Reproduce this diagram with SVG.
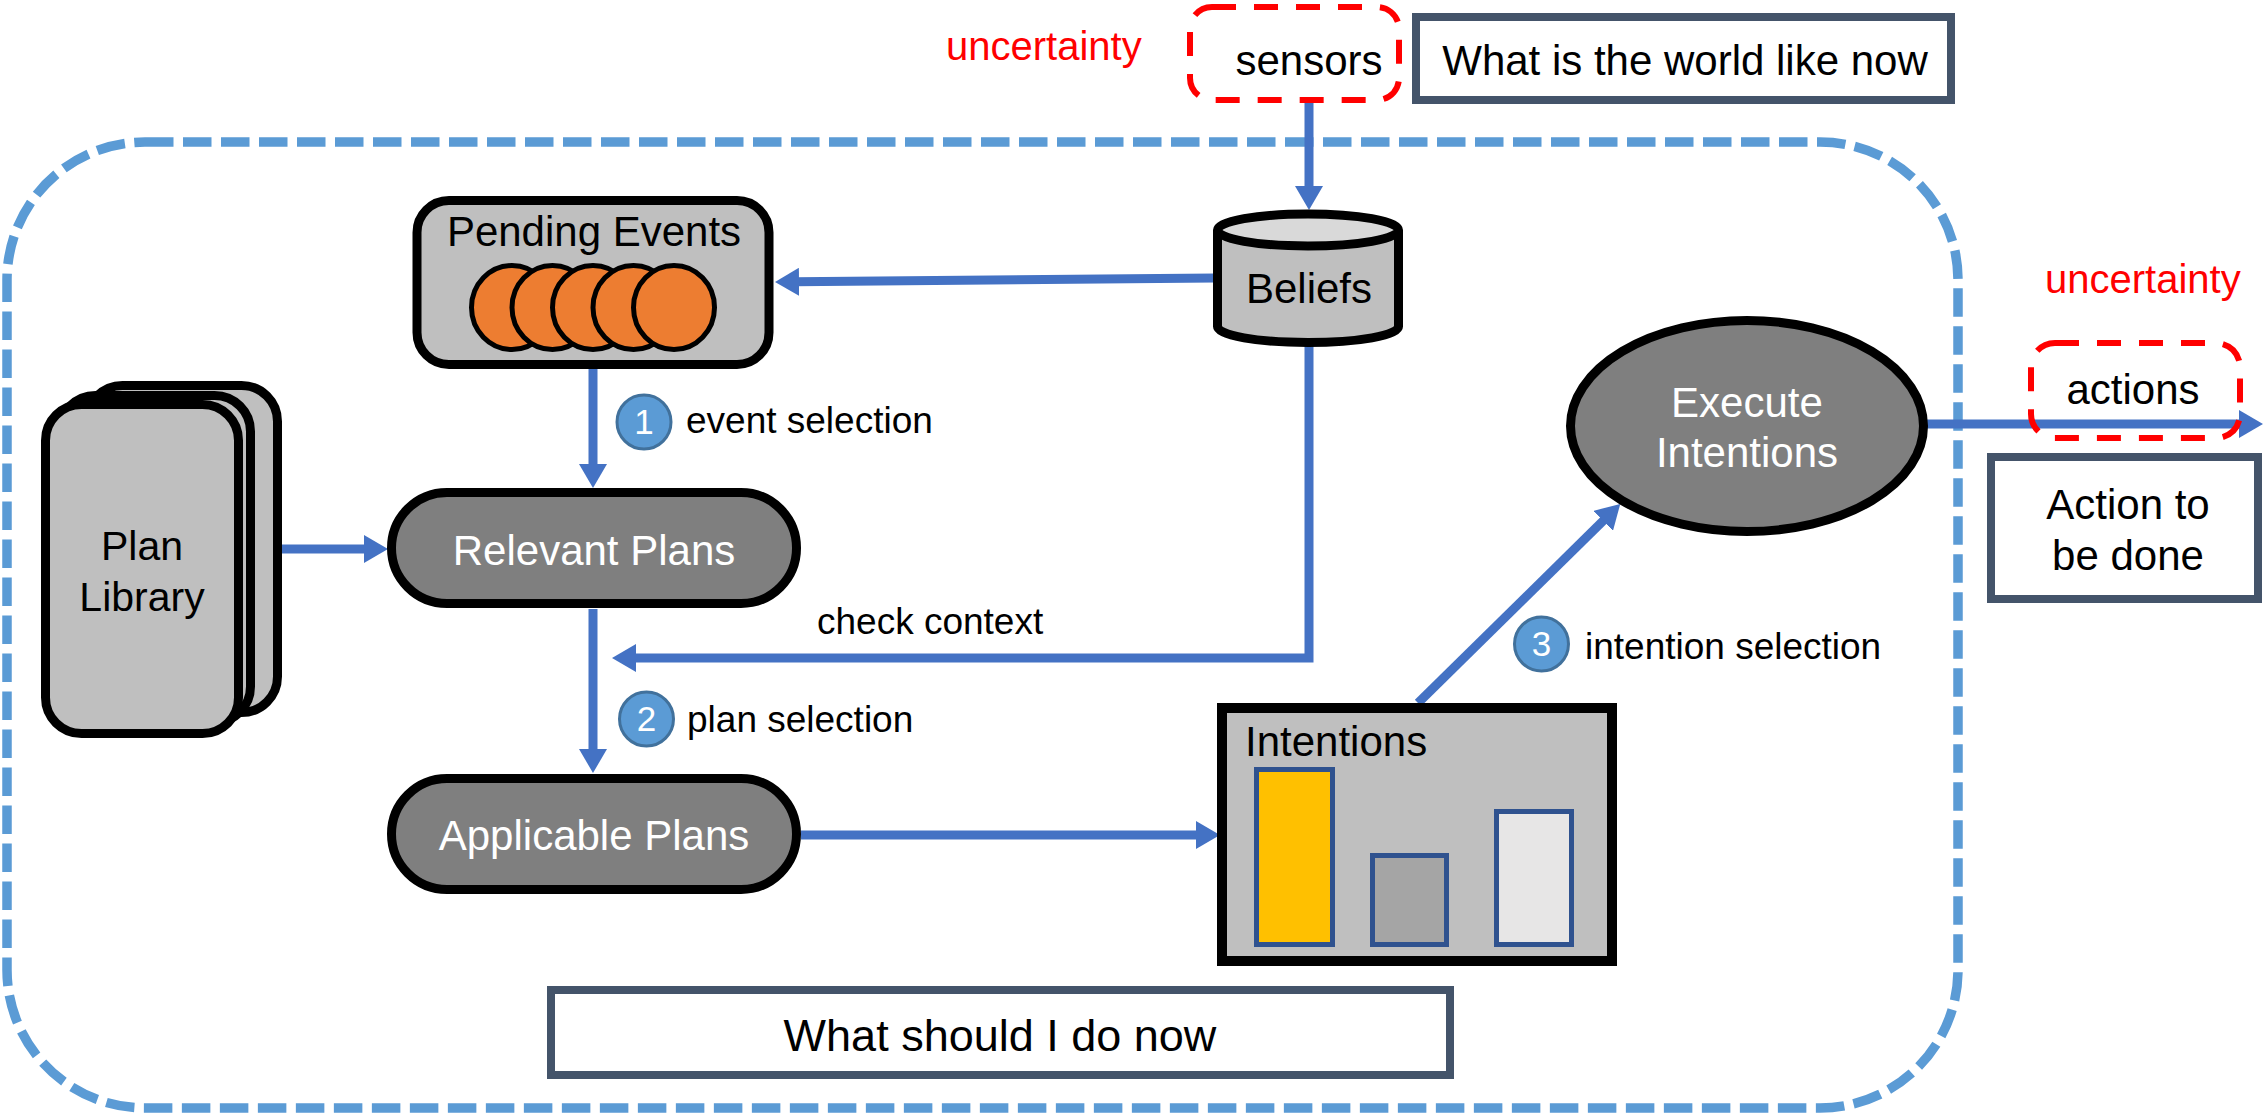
<svg xmlns="http://www.w3.org/2000/svg" width="2265" height="1114" viewBox="0 0 2265 1114">
<defs>
<style>
text{font-family:"Liberation Sans",Arial,sans-serif;}
.lbl{font-size:42px;fill:#000;text-anchor:middle;}
.wlbl{font-size:42px;fill:#fff;text-anchor:middle;}
.step{font-size:37px;fill:#000;}
.unc{font-size:40px;fill:#FF0000;}
.conn{fill:none;stroke:#4472C4;stroke-width:9;}
.redbox{fill:none;stroke:#FF0000;stroke-width:6;stroke-dasharray:24 18;}
.slate{fill:#fff;stroke:#44546A;stroke-width:8;}
.blk{stroke:#000;stroke-width:9;}
.badge{fill:#5B9BD5;stroke:#41719C;stroke-width:3;}
.bnum{font-size:35px;fill:#fff;text-anchor:middle;}
.bar{stroke:#2F528F;stroke-width:5;}
.ev{fill:#ED7D31;stroke:#000;stroke-width:5;}
</style>
<marker id="ah" viewBox="0 0 24 28" refX="4" refY="14" markerWidth="24" markerHeight="28" markerUnits="userSpaceOnUse" orient="auto">
<path d="M0,0 L24,14 L0,28 Z" fill="#4472C4"/>
</marker>
</defs>
<rect width="2265" height="1114" fill="#fff"/>

<g id="agent-boundary">
<rect x="7" y="142" width="1951" height="966" rx="138" ry="138" fill="none" stroke="#5B9BD5" stroke-width="9.5" stroke-dasharray="28.5 9.5"/>
</g>

<g id="connectors">
<path class="conn" d="M1309,102 V190" marker-end="url(#ah)"/>
<path class="conn" d="M1215,278 L795,281.8" marker-end="url(#ah)"/>
<path class="conn" d="M593,368 V468" marker-end="url(#ah)"/>
<path class="conn" d="M277,549 H368" marker-end="url(#ah)"/>
<path class="conn" d="M593,609 V753" marker-end="url(#ah)"/>
<path class="conn" d="M1309,345 V658 H632" marker-end="url(#ah)"/>
<path class="conn" d="M801,835 H1200" marker-end="url(#ah)"/>
<path class="conn" d="M1418,703 L1606,518" marker-end="url(#ah)"/>
<path class="conn" d="M1926,424 H2243" marker-end="url(#ah)"/>
</g>

<g id="uncertainty-top">
<text class="unc" x="946" y="60">uncertainty</text>
</g>
<g id="sensors">
<rect class="redbox" x="1190" y="7" width="209" height="93" rx="22"/>
<text class="lbl" x="1309" y="75">sensors</text>
</g>
<g id="world-now">
<rect class="slate" x="1416" y="17" width="535" height="83"/>
<text class="lbl" x="1685" y="75">What is the world like now</text>
</g>

<g id="beliefs">
<path d="M1217.5,230 V326.5 A90.5,16 0 0 0 1398.5,326.5 V230" fill="#BFBFBF" stroke="#000" stroke-width="9"/>
<ellipse cx="1308" cy="230" rx="90.5" ry="16" fill="#D9D9D9" stroke="#000" stroke-width="9"/>
<text class="lbl" x="1309" y="303">Beliefs</text>
</g>

<g id="pending-events">
<rect class="blk" x="417" y="200.5" width="352" height="164" rx="32" fill="#BFBFBF"/>
<text class="lbl" x="594" y="246">Pending Events</text>
<ellipse class="ev" cx="512" cy="307.5" rx="40.5" ry="42"/>
<ellipse class="ev" cx="552.5" cy="307.5" rx="40.5" ry="42"/>
<ellipse class="ev" cx="593" cy="307.5" rx="40.5" ry="42"/>
<ellipse class="ev" cx="633.5" cy="307.5" rx="40.5" ry="42"/>
<ellipse class="ev" cx="674" cy="307.5" rx="40.5" ry="42"/>
</g>

<g id="plan-library">
<rect class="blk" x="86.5" y="385.5" width="191" height="327" rx="36" fill="#BFBFBF"/>
<rect class="blk" x="59.5" y="395.5" width="191" height="327" rx="36" fill="#BFBFBF"/>
<rect class="blk" x="45.5" y="404.5" width="193" height="329" rx="36" fill="#BFBFBF"/>
<text x="142" y="560" style="font-size:41px;fill:#000;text-anchor:middle">Plan</text>
<text x="142" y="611" style="font-size:41px;fill:#000;text-anchor:middle">Library</text>
</g>

<g id="relevant-plans">
<rect class="blk" x="391.5" y="492.5" width="405" height="111" rx="55.5" fill="#7F7F7F"/>
<text class="wlbl" x="594" y="565">Relevant Plans</text>
</g>

<g id="applicable-plans">
<rect class="blk" x="391.5" y="778.5" width="405" height="111" rx="55.5" fill="#7F7F7F"/>
<text class="wlbl" x="594" y="850">Applicable Plans</text>
</g>

<g id="step1">
<circle class="badge" cx="644" cy="422" r="27"/>
<text class="bnum" x="644" y="434">1</text>
<text class="step" x="686" y="433">event selection</text>
</g>
<g id="check-context">
<text class="step" x="817" y="634">check context</text>
</g>
<g id="step2">
<circle class="badge" cx="646.5" cy="719" r="27"/>
<text class="bnum" x="646.5" y="731">2</text>
<text class="step" x="687" y="732">plan selection</text>
</g>
<g id="step3">
<circle class="badge" cx="1541.5" cy="644" r="27"/>
<text class="bnum" x="1541.5" y="656">3</text>
<text class="step" x="1585" y="659">intention selection</text>
</g>

<g id="intentions">
<rect x="1222" y="708" width="390" height="253" fill="#BFBFBF" stroke="#000" stroke-width="10"/>
<text x="1245" y="756" style="font-size:42px;fill:#000">Intentions</text>
<rect class="bar" x="1256.5" y="769.5" width="76" height="175" fill="#FFC000"/>
<rect class="bar" x="1372.5" y="855.5" width="74" height="89" fill="#A5A5A5"/>
<rect class="bar" x="1496.5" y="811.5" width="75" height="133" fill="#E7E6E6"/>
</g>

<g id="execute-intentions">
<ellipse cx="1747" cy="426" rx="176.5" ry="105.5" fill="#7F7F7F" stroke="#000" stroke-width="9"/>
<text class="wlbl" x="1747" y="417">Execute</text>
<text class="wlbl" x="1747" y="467">Intentions</text>
</g>

<g id="uncertainty-right">
<text class="unc" x="2045" y="293">uncertainty</text>
</g>
<g id="actions">
<rect class="redbox" x="2031" y="343" width="209" height="95" rx="24"/>
<text class="lbl" x="2133" y="404">actions</text>
</g>
<g id="action-to-be-done">
<rect class="slate" x="1991" y="457" width="267" height="142"/>
<text class="lbl" x="2128" y="519">Action to</text>
<text class="lbl" x="2128" y="570">be done</text>
</g>

<g id="what-should-i-do">
<rect class="slate" x="551" y="990" width="899" height="85"/>
<text x="1000" y="1051" style="font-size:45px;fill:#000;text-anchor:middle">What should I do now</text>
</g>
</svg>
